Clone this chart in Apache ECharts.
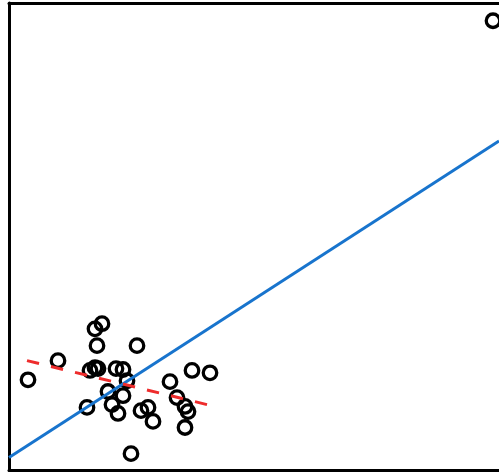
<!DOCTYPE html>
<html>
<head>
<meta charset="utf-8">
<script src="https://cdn.jsdelivr.net/npm/echarts@6/dist/echarts.min.js"></script>
<style>
  html, body { margin: 0; padding: 0; background: #fff; }
  #chart { width: 499px; height: 474px; }
</style>
</head>
<body>
<div id="chart"></div>
<script>
// Observations (x, y)
const xValues = [96.8, 3.8, 9.8, 17.2, 18.6, 17.6, 25.6, 16.2, 17.2, 17.8,
                 21.4, 22.8, 23.6, 19.8, 22.8, 20.6, 15.6, 21.8, 26.4, 27.8,
                 28.8, 24.4, 32.2, 36.6, 40.2, 33.6, 35.2, 35.8, 35.2];
const yValues = [96.2, 19.4, 23.5, 30.3, 31.4, 26.7, 26.7, 21.4, 22.0, 21.8,
                 21.8, 21.6, 19.2, 16.9, 16.0, 14.1, 13.5, 12.2, 12.8, 13.5,
                 10.5, 3.6, 19.0, 21.4, 20.9, 15.6, 13.7, 12.6, 9.2];

// Fit over all points (solid) and fit without the outlier (dashed)
const fitAllX = [0, 98];
const fitAllY = [2.8, 70.5];
const fitSubX = [3.6, 39.6];
const fitSubY = [23.5, 14.1];

const pairs = (xs, ys) => xs.map((x, i) => [x, ys[i]]);

const hiddenParts = {
  axisTick: { show: false }, axisLabel: { show: false }, splitLine: { show: false }
};
const frameLine = { show: true, onZero: false, lineStyle: { color: '#000', width: 3 } };

const chart = echarts.init(document.getElementById('chart'), null, { renderer: 'canvas' });
chart.setOption({
  animation: false,
  backgroundColor: '#ffffff',
  grid: { left: 9, top: 3, right: 0, bottom: 3.5, containLabel: false },
  xAxis: [
    Object.assign({ type: 'value', min: 0, max: 98, position: 'bottom', axisLine: frameLine }, hiddenParts),
    Object.assign({ type: 'value', min: 0, max: 98, position: 'top', axisLine: frameLine }, hiddenParts)
  ],
  yAxis: Object.assign({ type: 'value', min: 0, max: 100, position: 'left', axisLine: frameLine }, hiddenParts),
  series: [
    {
      type: 'scatter',
      data: pairs(xValues, yValues),
      symbol: 'circle',
      symbolSize: 13.5,
      clip: false,
      itemStyle: { color: 'rgba(0,0,0,0)', borderColor: '#000', borderWidth: 3.3, opacity: 1 },
      emphasis: { disabled: true }
    },
    {
      type: 'line',
      data: pairs(fitAllX, fitAllY),
      showSymbol: false,
      lineStyle: { color: '#1874CD', width: 3 }
    },
    {
      type: 'line',
      data: pairs(fitSubX, fitSubY),
      showSymbol: false,
      lineStyle: { color: '#EE2C2C', width: 3, type: [12.4, 12.3] }
    }
  ]
});
</script>
</body>
</html>
